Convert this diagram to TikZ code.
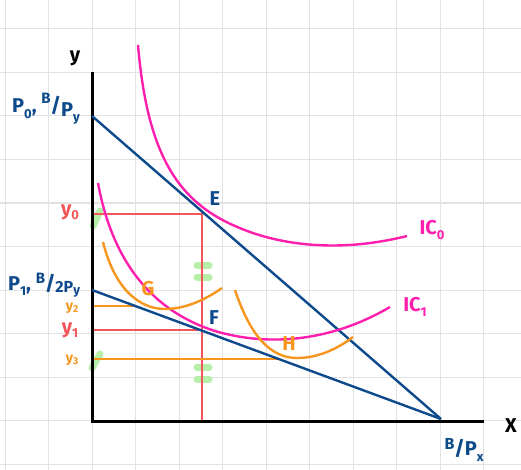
\documentclass[tikz,border=0pt]{standalone}
\usepackage{fontspec}
\setmainfont{Fira Sans}
\definecolor{bblue}{HTML}{0D4A8C}
\definecolor{ppink}{HTML}{FF1FAE}
\definecolor{oorange}{HTML}{F7961E}
\definecolor{rred}{HTML}{F2555A}
\definecolor{ggreen}{HTML}{B5EFA8}
\definecolor{ggrid}{HTML}{E2E2E2}
\tikzset{
  axis/.style={line width=3pt, black},
  budget/.style={line width=2.4pt, bblue},
  icurve/.style={line width=2.4pt, ppink},
  ocurve/.style={line width=2.4pt, oorange},
  guide/.style={line width=1.1pt, rred},
  oguide/.style={line width=1.3pt, oorange},
  hilite/.style={line width=7pt, ggreen, line cap=round},
  lbl/.style={font=\fontsize{20}{20}\selectfont\bfseries, inner sep=0pt},
  slbl/.style={font=\fontsize{14}{14}\selectfont\bfseries, inner sep=0pt},
}
\newcommand{\subs}[2]{\raisebox{#1}{\fontsize{13}{13}\selectfont #2}}
\begin{document}
\begin{tikzpicture}[x=1pt,y=-1pt]
\useasboundingbox (0,0) rectangle (521,470);
\fill[white] (0,0) rectangle (521,470);
% grid
\foreach \gx in {5,48.5,92,135.5,179,222.5,266,309.5,353,396.5,440,483.5}
  \draw[ggrid, line width=1pt] (\gx,0) -- (\gx,470);
\foreach \gy in {29,72.5,116,159.5,203,246.5,290,333.5,377,420.5,464}
  \draw[ggrid, line width=1pt] (0,\gy) -- (521,\gy);
% key points
\coordinate (O) at (92,421);
\coordinate (ytop) at (92,72);
\coordinate (xend) at (484,421);
\coordinate (A0) at (92,116);
\coordinate (A1) at (92,290);
\coordinate (Bx) at (441,419);
\coordinate (Y0) at (92,214);
\coordinate (Y1) at (92,330);
\coordinate (Y2) at (92,306);
\coordinate (Y3) at (92,359);
\coordinate (E0) at (202,214);
\coordinate (F0) at (202,330);
\coordinate (G2) at (135,306);
\coordinate (H3) at (279,359);
\coordinate (Xb) at (202,421);
% green highlights
\draw[hilite] (93,226) -- (100,211);
\draw[hilite] (92,368) -- (100,354);
\draw[hilite] (197,265) -- (209,265);
\draw[hilite] (197,277) -- (209,277);
\draw[hilite] (197,367) -- (209,367);
\draw[hilite] (197,379) -- (209,379);
% guide lines
\draw[guide] (Y0) -- (E0) -- (Xb);
\draw[guide] (Y1) -- (F0);
\draw[oguide] (Y2) -- (G2);
\draw[oguide] (Y3) -- (H3);
% axes
\draw[axis] (ytop) -- (O) -- (xend);
% budget lines
\draw[budget] (A0) -- (Bx);
\draw[budget] (A1) -- (Bx);
% indifference curves
\draw[icurve] (138,45) .. controls (147,150) and (175,200) .. (235,226) .. controls (275,244) and (335,254) .. (407,236);
\draw[icurve] (98,183) .. controls (113,265) and (155,312) .. (215,331) .. controls (255,343) and (320,348) .. (390,307);
\draw[ocurve] (103,242) .. controls (115,290) and (140,309) .. (165,309) .. controls (185,309) and (205,300) .. (222,288);
\draw[ocurve] (235,290) .. controls (250,335) and (270,358) .. (297,358) .. controls (320,358) and (340,347) .. (353,337);
% labels
\node[lbl] (ly) at (75,58) {y};
\node[lbl] (lx) at (511,426) {X};
\node[lbl, bblue, anchor=base west] (lp0) at (12,113) {P\subs{-6pt}{0}, \raisebox{9pt}{\fontsize{15}{15}\selectfont B}/\raisebox{-4pt}{P\subs{-5pt}{y}}};
\node[lbl, bblue, anchor=base west] (lp1) at (8,290) {P\subs{-5pt}{1}, \raisebox{7pt}{\fontsize{15}{15}\selectfont B}/\raisebox{-2pt}{\fontsize{16}{16}\selectfont 2P\subs{-2pt}{y}}};
\node[lbl, rred] (ly0) at (70,212) {y\subs{-4pt}{0}};
\node[slbl, oorange] (ly2) at (72,308) {y\raisebox{-2pt}{\fontsize{10}{10}\selectfont 2}};
\node[lbl, rred] (ly1) at (70,330) {y\subs{-4pt}{1}};
\node[slbl, oorange] (ly3) at (72,360) {y\raisebox{-2pt}{\fontsize{10}{10}\selectfont 3}};
\node[lbl, bblue] (lE) at (215,199) {E};
\node[lbl, bblue] (lF) at (214,318) {F};
\node[lbl, oorange] (lG) at (148,289) {G};
\node[lbl, oorange] (lH) at (289,344) {H};
\node[lbl, ppink] (lic0) at (432,230) {IC\subs{-5pt}{0}};
\node[lbl, ppink] (lic1) at (415,307) {IC\subs{-5pt}{1}};
\node[lbl, bblue] (lbx) at (464,450) {\raisebox{6pt}{\fontsize{16}{16}\selectfont B}/P\subs{-6pt}{x}};
\end{tikzpicture}
\end{document}
